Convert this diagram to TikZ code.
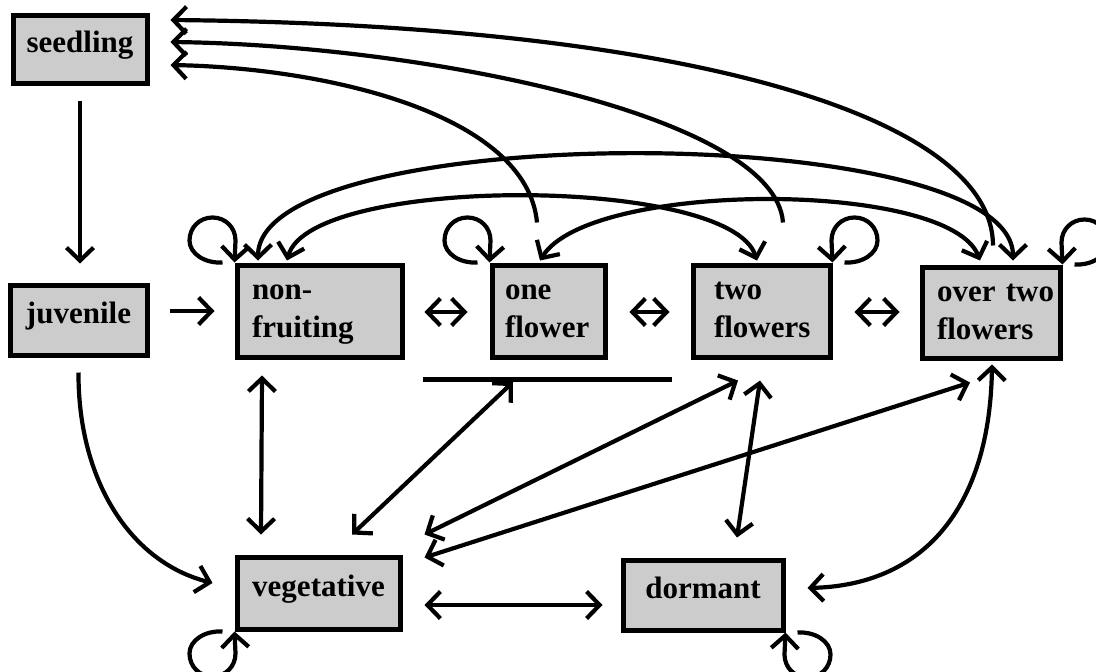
\documentclass[tikz,border=0pt]{standalone}
\usepackage{fontspec}
\setmainfont{Liberation Serif}
\usetikzlibrary{arrows.meta}
\begin{document}
\begin{tikzpicture}[x=1pt,y=-1pt,
  box/.style={draw, line width=5pt, fill=black!20, inner ysep=0pt,
    font=\bfseries\fontsize{31}{38}\selectfont},
  onebox/.style={box, align=center, text height=14pt, text depth=8pt},
  twobox/.style={box, align=left, execute at begin node=\strut, execute at end node=\strut},
  conn/.style={line width=4.2pt},
  tip/.tip={Straight Barb[length=13pt,width=27pt]},
  arr/.style={conn, -tip},
  darr/.style={conn, tip-tip},
  selfloop/.pic={\draw[arr] (-12,0) .. controls (-30,1) and (-45,-9) .. (-45,-22)
      .. controls (-45,-35) and (-35,-45) .. (-22,-45)
      .. controls (-9,-45) and (1,-35) .. (1,-22) -- (0,0);}
]
\useasboundingbox (0,0) rectangle (1096,672);
\clip (0,0) rectangle (1096,672);

% nodes
\node[onebox, minimum width=134pt, minimum height=68pt] (seed) at (80,49) {seedling};
\node[onebox, minimum width=137pt, minimum height=70pt] (juv) at (78.5,320) {juvenile};
\node[twobox, text width=135pt, inner xsep=15pt, minimum height=92pt] (nonfr) at (319.5,311) {non-\\fruiting};
\node[twobox, text width=87pt, inner xsep=13pt, minimum height=92pt] (onefl) at (548.5,311) {one\\flower};
\node[twobox, text width=95pt, inner xsep=21pt, minimum height=92pt] (twofl) at (761.5,311) {two\\flowers};
\node[twobox, text width=108pt, inner xsep=15pt, minimum height=91pt] (ovtwo) at (991,312.5) {over~two\\flowers};
\node[onebox, minimum width=163pt, minimum height=72pt] (veget) at (318.5,593) {vegetative};
\node[onebox, minimum width=160pt, minimum height=70pt] (dorm) at (703,595) {dormant};

% bar
\coordinate (barL) at (423,379);
\coordinate (barR) at (672,379);
\coordinate (barA) at (513,382);
\draw[line width=5pt] (barL) -- (barR);

% straight connectors
\draw[arr] ([shift={(0,15)}]seed.south) -- ([shift={(1.5,-19)}]juv.north);
\draw[arr] ([shift={(20,-9)}]juv.east) -- ([shift={(-20,0)}]nonfr.west);
\draw[arr] ([shift={(0,15)}]juv.south) .. controls (78,480) and (130,562) .. ([shift={(-22,-10)}]veget.west);
\draw[darr] ([shift={(20,1)}]nonfr.east) -- ([shift={(-22,1)}]onefl.west);
\draw[darr] ([shift={(22,1)}]onefl.east) -- ([shift={(-21,1)}]twofl.west);
\draw[darr] ([shift={(22,1)}]twofl.east) -- ([shift={(-20,-0.5)}]ovtwo.west);
\draw[darr] ([shift={(-57.5,16)}]nonfr.south) -- ([shift={(-57.5,-20)}]veget.north);
\draw[darr] (barA) -- ([shift={(33.5,-20)}]veget.north);
\draw[darr] ([shift={(-23.5,21)}]twofl.south) -- ([shift={(22,-20)}]veget.north east);
\draw[darr] ([shift={(-21,22)}]ovtwo.south) -- ([shift={(22,3)}]veget.north east);
\draw[darr] ([shift={(-1.5,21)}]twofl.south) -- ([shift={(34,-20)}]dorm.north);
\draw[darr] ([shift={(1,4)}]ovtwo.south) .. controls (990,500) and (930,585) .. ([shift={(22,-7)}]dorm.east);
\draw[darr] ([shift={(22,12)}]veget.east) -- ([shift={(-18,10)}]dorm.west);

% arrows back to seedling
\draw[arr] ([shift={(-11.5,-40)}]onefl.north) .. controls (527,115) and (330,68) .. ([shift={(21,16)}]seed.east);
\draw[arr] ([shift={(21.5,-40)}]twofl.north) .. controls (775,115) and (420,45) .. ([shift={(21,-7)}]seed.east);
\draw[arr] ([shift={(2,-19)}]ovtwo.north) .. controls (993,120) and (700,25) .. ([shift={(21,-29)}]seed.east);

% arcs between flowering classes
\draw[darr] ([shift={(-61.5,-2)}]nonfr.north) .. controls (258,119) and (1013,119) .. ([shift={(22,-4)}]ovtwo.north);
\draw[darr] ([shift={(-32.5,-2)}]nonfr.north) .. controls (310,175) and (730,175) .. ([shift={(-4.5,-2)}]twofl.north);
\draw[darr] ([shift={(-8.5,-2)}]onefl.north) .. controls (590,180) and (950,180) .. ([shift={(-11,-4)}]ovtwo.north);

% self loops
\pic at (nonfr.north west) {selfloop};
\pic at (onefl.north west) {selfloop};
\pic[xscale=-1] at (twofl.north east) {selfloop};
\pic[xscale=-1] at (ovtwo.north east) {selfloop};
\pic[yscale=-1] at (veget.south west) {selfloop};
\pic[xscale=-1,yscale=-1] at (dorm.south east) {selfloop};
\end{tikzpicture}
\end{document}
